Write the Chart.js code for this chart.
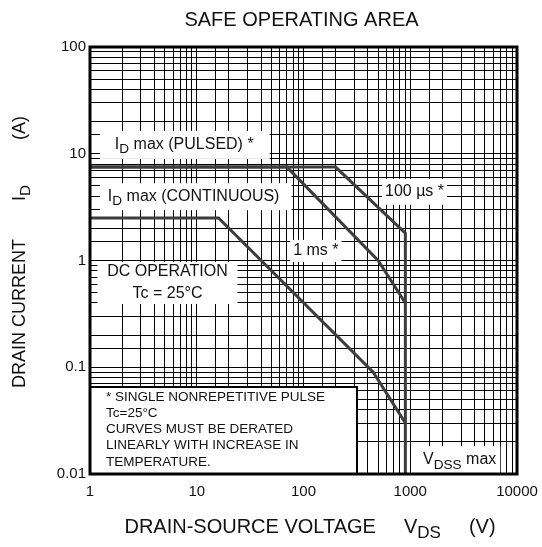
<!DOCTYPE html>
<html>
<head>
<meta charset="utf-8">
<title>Safe Operating Area</title>
<script src="https://cdn.jsdelivr.net/npm/chart.js@4.4.1/dist/chart.umd.min.js"></script>
<style>
    html, body { margin: 0; padding: 0; background: #fff; }
    canvas { display: block; }
</style>
</head>
<body>
<canvas id="soaChart" width="542" height="547"></canvas>
<script>
// --- Data ---
const xTicks = [1, 10, 100, 1000, 10000];
const xTickLabels = ['1', '10', '100', '1000', '10000'];
const yTicks = [0.01, 0.1, 1, 10, 100];
const yTickLabels = ['0.01', '0.1', '1', '10', '100'];

// 100 us pulse (also carries the VDSS max vertical)
const pulse100usV = [1, 200, 900, 900];
const pulse100usI = [7.5, 7.5, 1.8, 0.01];
// 1 ms pulse
const pulse1msV = [1, 70, 500, 900];
const pulse1msI = [7.5, 7.5, 1.0, 0.4];
// DC operation
const dcV = [1, 16, 450, 900];
const dcI = [2.5, 2.5, 0.09, 0.03];

const noteLines = [
    '* SINGLE NONREPETITIVE PULSE',
    'Tc=25\u00B0C',
    'CURVES MUST BE DERATED',
    'LINEARLY WITH INCREASE IN',
    'TEMPERATURE.'
];

// --- Helpers ---
const FONT = '"Liberation Sans", Arial, Helvetica, sans-serif';
const LINE_COLOR = '#3d3d3d';

function toPoints(xs, ys) {
    return xs.map((v, i) => ({ x: v, y: ys[i] }));
}

// parts: [{t, sub}] or [{gap}] ; text with subscripts, baseline middle
function richWidth(ctx, parts, size) {
    let w = 0;
    parts.forEach(p => {
        if (p.gap) { w += p.gap; return; }
        ctx.font = (p.sub ? size * 0.85 : size) + 'px ' + FONT;
        w += ctx.measureText(p.t).width;
    });
    return w;
}

function drawRich(ctx, parts, x, y, size, align) {
    const total = richWidth(ctx, parts, size);
    let cx = x;
    if (align === 'center') cx = x - total / 2;
    if (align === 'right') cx = x - total;
    ctx.textAlign = 'left';
    ctx.textBaseline = 'middle';
    parts.forEach(p => {
        if (p.gap) { cx += p.gap; return; }
        const s = p.sub ? size * 0.85 : size;
        ctx.font = s + 'px ' + FONT;
        ctx.fillText(p.t, cx, y + (p.sub ? size * 0.3 : 0));
        cx += ctx.measureText(p.t).width;
    });
}

// in-plot labels, anchored in data units (volts, amps)
const plotLabels = [
    { parts: [{ t: 'I' }, { t: 'D', sub: true }, { t: ' max (PULSED) *' }], v: 1.71, i: 12.1, pad: [15, 16], h: 28 },
    { parts: [{ t: 'I' }, { t: 'D', sub: true }, { t: ' max (CONTINUOUS)' }], v: 1.47, i: 3.96, pad: [8, 12], h: 27 },
    { parts: [{ t: '100 \u00B5s *' }], v: 580, i: 4.4, pad: [3, 3], h: 26 },
    { parts: [{ t: '1 ms *' }], v: 80, i: 1.23, pad: [3, 3], h: 22 },
    { parts: [{ t: 'V' }, { t: 'DSS', sub: true }, { t: ' max' }], v: 1316, i: 0.0135, pad: [4, 4], h: 28 }
];

const soaDecor = {
    id: 'soaDecor',
    beforeDatasetsDraw(chart) {
        const { ctx, chartArea, scales } = chart;
        const x = scales.x, y = scales.y;
        ctx.save();
        ctx.fillStyle = '#fff';

        // boxes behind labels
        plotLabels.forEach(l => {
            const px = x.getPixelForValue(l.v);
            const py = y.getPixelForValue(l.i);
            const w = richWidth(ctx, l.parts, 16);
            ctx.fillRect(px - l.pad[0], py - l.h / 2, w + l.pad[0] + l.pad[1], l.h);
        });

        // DC operation box
        const dcx = x.getPixelForValue(5.32);
        const dcy = y.getPixelForValue(0.78);
        ctx.fillRect(dcx - 70, dcy - 10, 140, 42);

        // note box
        const nr = x.getPixelForValue(317);
        const nt = y.getPixelForValue(0.0653);
        ctx.fillRect(chartArea.left, nt, nr - chartArea.left, chartArea.bottom - nt);
        ctx.strokeStyle = '#000';
        ctx.lineWidth = 2;
        ctx.strokeRect(chartArea.left, nt, nr - chartArea.left, chartArea.bottom - nt);
        ctx.restore();
    },
    afterDatasetsDraw(chart) {
        const { ctx, chartArea, scales } = chart;
        const x = scales.x, y = scales.y;
        ctx.save();
        ctx.fillStyle = '#111';

        plotLabels.forEach(l => {
            drawRich(ctx, l.parts, x.getPixelForValue(l.v), y.getPixelForValue(l.i), 16, 'left');
        });

        const dcx = x.getPixelForValue(5.32);
        drawRich(ctx, [{ t: 'DC OPERATION' }], dcx, y.getPixelForValue(0.78), 16, 'center');
        drawRich(ctx, [{ t: 'Tc = 25\u00B0C' }], dcx, y.getPixelForValue(0.485), 16, 'center');

        // note text
        const nt = y.getPixelForValue(0.0653);
        noteLines.forEach((line, k) => {
            drawRich(ctx, [{ t: line }], chartArea.left + 16, nt + 10 + k * 16.2, 13.5, 'left');
        });

        // thick frame
        ctx.strokeStyle = '#000';
        ctx.lineWidth = 3;
        ctx.strokeRect(chartArea.left, chartArea.top, chartArea.right - chartArea.left, chartArea.bottom - chartArea.top);

        // tick labels
        yTicks.forEach((v, k) => {
            drawRich(ctx, [{ t: yTickLabels[k] }], chartArea.left - 4, y.getPixelForValue(v), 15, 'right');
        });
        xTicks.forEach((v, k) => {
            drawRich(ctx, [{ t: xTickLabels[k] }], x.getPixelForValue(v), chartArea.bottom + 18, 15, 'center');
        });

        // titles
        drawRich(ctx, [{ t: 'SAFE OPERATING AREA' }], (chartArea.left + chartArea.right) / 2 - 2, 20, 20, 'center');
        drawRich(ctx, [
            { t: 'DRAIN-SOURCE VOLTAGE' }, { gap: 28 },
            { t: 'V' }, { t: 'DS', sub: true }, { gap: 28 }, { t: '(V)' }
        ], 310, 527, 20, 'center');

        ctx.translate(20, 252);
        ctx.rotate(-Math.PI / 2);
        drawRich(ctx, [
            { t: 'DRAIN CURRENT' }, { gap: 38 },
            { t: 'I' }, { t: 'D', sub: true }, { gap: 45 }, { t: '(A)' }
        ], 0, 0, 18, 'center');
        ctx.restore();
    }
};

// --- Chart ---
const lineStyle = {
    borderColor: LINE_COLOR,
    borderWidth: 3,
    pointRadius: 0,
    tension: 0,
    fill: false,
    borderJoinStyle: 'miter'
};

new Chart(document.getElementById('soaChart'), {
    type: 'line',
    data: {
        datasets: [
            { label: '100 us', data: toPoints(pulse100usV, pulse100usI), ...lineStyle },
            { label: '1 ms', data: toPoints(pulse1msV, pulse1msI), ...lineStyle },
            { label: 'DC', data: toPoints(dcV, dcI), ...lineStyle }
        ]
    },
    options: {
        responsive: false,
        animation: false,
        devicePixelRatio: 1,
        layout: { padding: { left: 90, top: 47, right: 25, bottom: 73 } },
        plugins: {
            legend: { display: false },
            tooltip: { enabled: false }
        },
        scales: {
            x: {
                type: 'logarithmic',
                min: 1,
                max: 10000,
                border: { display: false },
                grid: { color: '#000', lineWidth: 1, drawTicks: false },
                ticks: { display: false },
                afterFit: s => { s.height = 0; }
            },
            y: {
                type: 'logarithmic',
                min: 0.01,
                max: 100,
                border: { display: false },
                grid: { color: '#000', lineWidth: 1, drawTicks: false },
                ticks: { display: false },
                afterFit: s => { s.width = 0; }
            }
        }
    },
    plugins: [soaDecor]
});
</script>
</body>
</html>
